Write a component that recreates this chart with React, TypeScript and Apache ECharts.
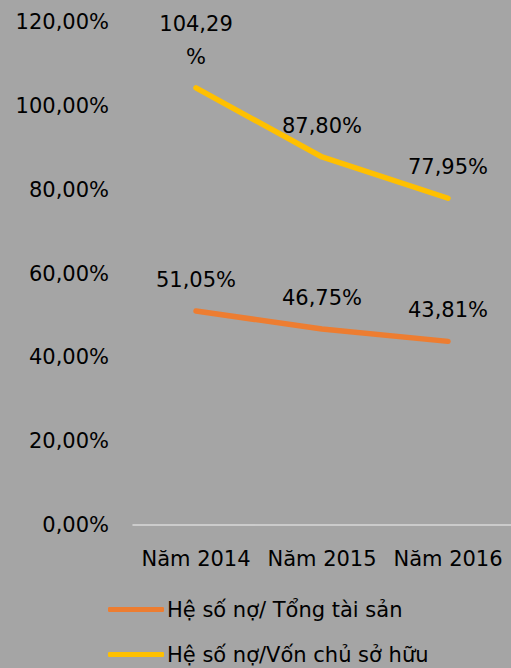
import React, { useEffect, useRef } from "react";
import * as echarts from "echarts";

const categories = ["Năm 2014", "Năm 2015", "Năm 2016"];
const seriesNames = ["Hệ số nợ/ Tổng tài sản", "Hệ số nợ/Vốn chủ sở hữu"];
const debtToAssets = [51.05, 46.75, 43.81];
const debtToEquity = [104.29, 87.8, 77.95];
const colors = ["#ed7d31", "#ffc000"];

const fmt = (v: number) => v.toFixed(2).replace(".", ",");

export default function App() {
  const ref = useRef<HTMLDivElement>(null);
  useEffect(() => {
    if (!ref.current) return;
    const chart = echarts.init(ref.current, undefined, { renderer: "svg" });
    const font = "DejaVu Sans";
    const labelCfg = {
      show: true,
      position: "top",
      distance: 14,
      fontFamily: font,
      fontSize: 21,
      color: "#000",
      lineHeight: 33,
    };
    chart.setOption({
      animation: false,
      backgroundColor: "#a5a5a5",
      grid: { left: 133, right: 0, top: 22, bottom: 143 },
      xAxis: {
        type: "category",
        data: categories,
        axisLine: { lineStyle: { color: "#d9d9d9", width: 1.5 } },
        axisTick: { show: false },
        axisLabel: { interval: 0, fontFamily: font, fontSize: 21, color: "#000", margin: 23 },
      },
      yAxis: {
        type: "value",
        min: 0,
        max: 120,
        interval: 20,
        axisLine: { show: false },
        axisTick: { show: false },
        splitLine: { show: false },
        axisLabel: {
          fontFamily: font,
          fontSize: 21,
          color: "#000",
          margin: 24,
          formatter: (v: number) => fmt(v) + "%",
        },
      },
      legend: {
        orient: "vertical",
        left: 108,
        top: 599,
        padding: 0,
        itemWidth: 56,
        itemHeight: 5,
        itemGap: 24,
        icon: "roundRect",
        textStyle: { fontFamily: font, fontSize: 21, color: "#000", padding: [0, 0, 0, -2] },
        data: seriesNames,
      },
      series: [
        {
          name: seriesNames[0],
          type: "line",
          data: debtToAssets,
          color: colors[0],
          symbol: "circle",
          symbolSize: 1,
          lineStyle: { width: 5.5, cap: "round", join: "round" },
          label: {
            ...labelCfg,
            formatter: (p: any) => fmt(p.value) + "%",
          },
        },
        {
          name: seriesNames[1],
          type: "line",
          data: debtToEquity,
          color: colors[1],
          symbol: "circle",
          symbolSize: 1,
          lineStyle: { width: 5.5, cap: "round", join: "round" },
          label: {
            ...labelCfg,
            formatter: (p: any) => {
              const s = fmt(p.value);
              return p.value >= 100 ? s + "\n%" : s + "%";
            },
          },
        },
      ],
    });
    return () => chart.dispose();
  }, []);
  return (
    <div
      ref={ref}
      style={{ position: "fixed", left: 0, top: 0, width: 511, height: 668 }}
    />
  );
}
